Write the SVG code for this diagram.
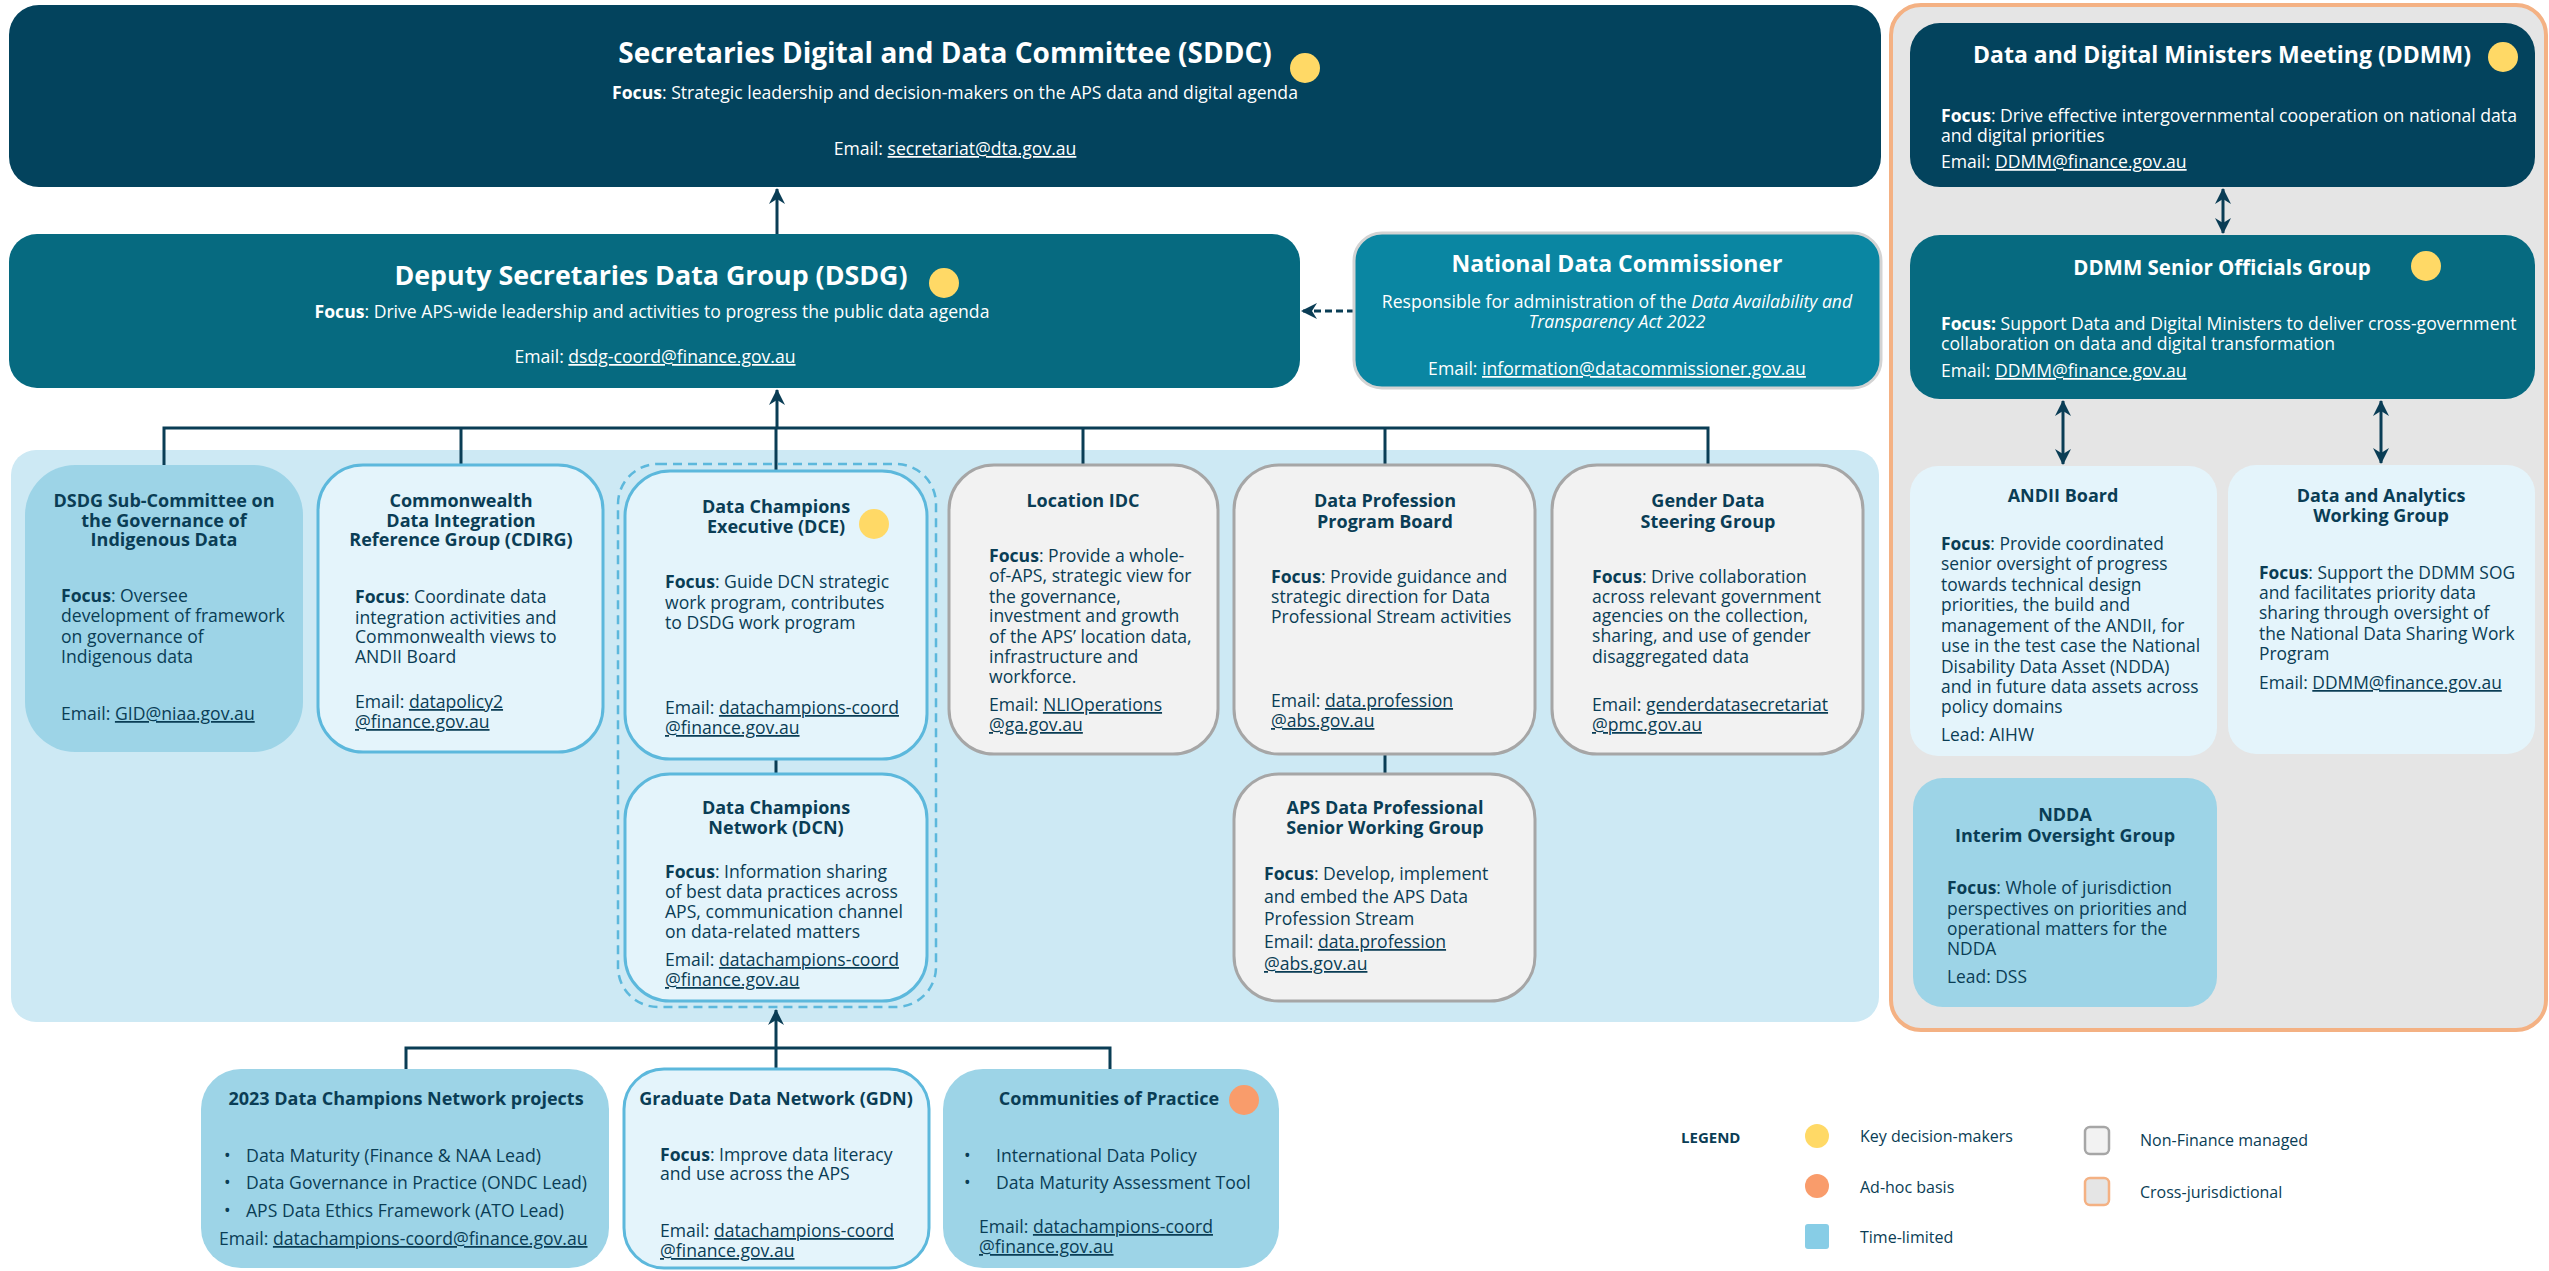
<svg xmlns="http://www.w3.org/2000/svg" width="2549" height="1271" viewBox="0 0 2549 1271">
<defs>
<style>
text{font-family:"Open Sans","Noto Sans",sans-serif}
.w{fill:#ffffff}
.d{fill:#0a3d55}
.h1{font-size:28px;font-weight:700}
.h1b{font-size:26.8px;font-weight:700}
.h2{font-size:23px;font-weight:700}
.h2b{font-size:20.5px;font-weight:700}
.h3{font-size:18px;font-weight:700}
.p{font-size:17.6px}
.s{font-size:17.4px}
.lg{font-size:16px}
.c{text-anchor:middle}
.b{font-weight:700}
.u{text-decoration:underline}
.i{font-style:italic}
.navy{fill:#03435d}
.teal{fill:#066a80}
.tl{fill:#9dd4e7}
.lt{fill:#e4f4fb;stroke:#5cb8dc;stroke-width:3}
.lt0{fill:#e4f4fb}
.gr{fill:#f2f2f2;stroke:#a6a6a6;stroke-width:3}
.kd{fill:#ffd966}
.ah{fill:#f99c6b}
.ln{fill:none;stroke:#0a3d55;stroke-width:3}
</style>
<marker id="arr" viewBox="0 0 16 16" refX="15" refY="8" markerWidth="16" markerHeight="16" markerUnits="userSpaceOnUse" orient="auto-start-reverse">
<path d="M0,0 L16,8 L0,16 L5,8 z" fill="#0a3d55"/>
</marker>
</defs>

<!-- background panels -->
<rect x="1891" y="5" width="655" height="1025" rx="30" fill="#e5e5e5" stroke="#f4b183" stroke-width="4"/>
<rect x="11" y="450" width="1868" height="572" rx="25" fill="#cde9f4"/>

<!-- connectors -->
<g id="connectors">
<line class="ln" x1="777" y1="234" x2="777" y2="189" marker-end="url(#arr)"/>
<line class="ln" x1="1354" y1="311" x2="1302" y2="311" stroke-dasharray="7 4" marker-end="url(#arr)"/>
<line class="ln" x1="2223" y1="189" x2="2223" y2="233" marker-start="url(#arr)" marker-end="url(#arr)"/>
<line class="ln" x1="2063" y1="401" x2="2063" y2="464" marker-start="url(#arr)" marker-end="url(#arr)"/>
<line class="ln" x1="2381" y1="401" x2="2381" y2="463" marker-start="url(#arr)" marker-end="url(#arr)"/>
<line class="ln" x1="777" y1="428" x2="777" y2="390" marker-end="url(#arr)"/>
<polyline class="ln" points="164,465 164,428 1708,428 1708,465"/>
<line class="ln" x1="461" y1="428" x2="461" y2="465"/>
<line class="ln" x1="776" y1="428" x2="776" y2="471"/>
<line class="ln" x1="1083" y1="428" x2="1083" y2="465"/>
<line class="ln" x1="1385" y1="428" x2="1385" y2="465"/>
<line class="ln" x1="776" y1="759" x2="776" y2="774"/>
<line class="ln" x1="1385" y1="754" x2="1385" y2="774"/>
<line class="ln" x1="776" y1="1068" x2="776" y2="1010" marker-end="url(#arr)"/>
<polyline class="ln" points="406,1069 406,1048 1110,1048 1110,1069"/>
</g>

<!-- top level -->
<g id="sddc">
<rect class="navy" x="9" y="5" width="1872" height="182" rx="30"/>
<text class="w h1 c" x="945" y="63">Secretaries Digital and Data Committee (SDDC)</text>
<circle class="kd" cx="1305" cy="68" r="15"/>
<text class="w p c" x="955" y="99"><tspan class="b">Focus</tspan>: Strategic leadership and decision-makers on the APS data and digital agenda</text>
<text class="w p c" x="955" y="155">Email: <tspan class="u">secretariat@dta.gov.au</tspan></text>
</g>

<g id="dsdg">
<rect class="teal" x="9" y="234" width="1291" height="154" rx="28"/>
<text class="w h1b c" x="651" y="285">Deputy Secretaries Data Group (DSDG)</text>
<circle class="kd" cx="944" cy="283" r="15"/>
<text class="w p c" x="652" y="318"><tspan class="b">Focus</tspan>: Drive APS-wide leadership and activities to progress the public data agenda</text>
<text class="w p c" x="655" y="363">Email: <tspan class="u">dsdg-coord@finance.gov.au</tspan></text>
</g>

<g id="ndc">
<rect x="1354" y="233" width="527" height="155" rx="28" fill="#0a86a2" stroke="#d3d3d3" stroke-width="3"/>
<text class="w h2 c" x="1617" y="272">National Data Commissioner</text>
<text class="w p c" x="1617" y="308">Responsible for administration of the <tspan class="i">Data Availability and</tspan></text>
<text class="w p c i" x="1617" y="328">Transparency Act 2022</text>
<text class="w p c" x="1617" y="375">Email: <tspan class="u">information@datacommissioner.gov.au</tspan></text>
</g>

<!-- cross-jurisdictional -->
<g id="ddmm">
<rect class="navy" x="1910" y="23" width="625" height="164" rx="30"/>
<text class="w h2 c" x="2222" y="63">Data and Digital Ministers Meeting (DDMM)</text>
<circle class="kd" cx="2503" cy="57" r="15"/>
<text class="w p" x="1941" y="122"><tspan class="b">Focus</tspan>: Drive effective intergovernmental cooperation on national data</text>
<text class="w p" x="1941" y="142">and digital priorities</text>
<text class="w p" x="1941" y="168">Email: <tspan class="u">DDMM@finance.gov.au</tspan></text>
</g>

<g id="sog">
<rect class="teal" x="1910" y="235" width="625" height="164" rx="30"/>
<text class="w h2b c" x="2222" y="275">DDMM Senior Officials Group</text>
<circle class="kd" cx="2426" cy="266" r="15"/>
<text class="w p" x="1941" y="330"><tspan class="b">Focus:</tspan> Support Data and Digital Ministers to deliver cross-government</text>
<text class="w p" x="1941" y="350">collaboration on data and digital transformation</text>
<text class="w p" x="1941" y="377">Email: <tspan class="u">DDMM@finance.gov.au</tspan></text>
</g>

<g id="andii">
<rect class="lt0" x="1910" y="466" width="307" height="290" rx="28"/>
<text class="d h3 c" x="2063" y="502">ANDII Board</text>
<text class="d s" x="1941" y="550"><tspan class="b">Focus</tspan>: Provide coordinated</text>
<text class="d s" x="1941" y="570">senior oversight of progress</text>
<text class="d s" x="1941" y="591">towards technical design</text>
<text class="d s" x="1941" y="611">priorities, the build and</text>
<text class="d s" x="1941" y="632">management of the ANDII, for</text>
<text class="d s" x="1941" y="652">use in the test case the National</text>
<text class="d s" x="1941" y="673">Disability Data Asset (NDDA)</text>
<text class="d s" x="1941" y="693">and in future data assets across</text>
<text class="d s" x="1941" y="713">policy domains</text>
<text class="d s" x="1941" y="741">Lead: AIHW</text>
</g>

<g id="dawg">
<rect class="lt0" x="2228" y="465" width="307" height="289" rx="28"/>
<text class="d h3 c" x="2381" y="502">Data and Analytics</text>
<text class="d h3 c" x="2381" y="522">Working Group</text>
<text class="d s" x="2259" y="579"><tspan class="b">Focus</tspan>: Support the DDMM SOG</text>
<text class="d s" x="2259" y="599">and facilitates priority data</text>
<text class="d s" x="2259" y="619">sharing through oversight of</text>
<text class="d s" x="2259" y="640">the National Data Sharing Work</text>
<text class="d s" x="2259" y="660">Program</text>
<text class="d s" x="2259" y="689">Email: <tspan class="u">DDMM@finance.gov.au</tspan></text>
</g>

<g id="ndda">
<rect class="tl" x="1913" y="778" width="304" height="229" rx="30"/>
<text class="d h3 c" x="2065" y="821">NDDA</text>
<text class="d h3 c" x="2065" y="842">Interim Oversight Group</text>
<text class="d s" x="1947" y="894"><tspan class="b">Focus</tspan>: Whole of jurisdiction</text>
<text class="d s" x="1947" y="915">perspectives on priorities and</text>
<text class="d s" x="1947" y="935">operational matters for the</text>
<text class="d s" x="1947" y="955">NDDA</text>
<text class="d s" x="1947" y="983">Lead: DSS</text>
</g>

<!-- DSDG groups -->
<g id="sub-committee">
<rect class="tl" x="25" y="465" width="278" height="287" rx="50"/>
<text class="d h3 c" x="164" y="507">DSDG Sub-Committee on</text>
<text class="d h3 c" x="164" y="527">the Governance of</text>
<text class="d h3 c" x="164" y="546">Indigenous Data</text>
<text class="d p" x="61" y="602"><tspan class="b">Focus</tspan>: Oversee</text>
<text class="d p" x="61" y="622">development of framework</text>
<text class="d p" x="61" y="643">on governance of</text>
<text class="d p" x="61" y="663">Indigenous data</text>
<text class="d p" x="61" y="720">Email: <tspan class="u">GID@niaa.gov.au</tspan></text>
</g>

<g id="cdirg">
<rect class="lt" x="318" y="465" width="285" height="287" rx="45"/>
<text class="d h3 c" x="461" y="507">Commonwealth</text>
<text class="d h3 c" x="461" y="527">Data Integration</text>
<text class="d h3 c" x="461" y="546">Reference Group (CDIRG)</text>
<text class="d p" x="355" y="603"><tspan class="b">Focus</tspan>: Coordinate data</text>
<text class="d p" x="355" y="624">integration activities and</text>
<text class="d p" x="355" y="643">Commonwealth views to</text>
<text class="d p" x="355" y="663">ANDII Board</text>
<text class="d p" x="355" y="708">Email: <tspan class="u">datapolicy2</tspan></text>
<text class="d p u" x="355" y="728">@finance.gov.au</text>
</g>

<rect id="dc-group" x="618" y="464" width="318" height="543" rx="40" fill="none" stroke="#5cb8dc" stroke-width="2.5" stroke-dasharray="9 6"/>

<g id="dce">
<rect class="lt" x="625" y="471" width="302" height="288" rx="45"/>
<text class="d h3 c" x="776" y="513">Data Champions</text>
<text class="d h3 c" x="776" y="533">Executive (DCE)</text>
<circle class="kd" cx="874" cy="524" r="15"/>
<text class="d p" x="665" y="588"><tspan class="b">Focus</tspan>: Guide DCN strategic</text>
<text class="d p" x="665" y="609">work program, contributes</text>
<text class="d p" x="665" y="629">to DSDG work program</text>
<text class="d p" x="665" y="714">Email: <tspan class="u">datachampions-coord</tspan></text>
<text class="d p u" x="665" y="734">@finance.gov.au</text>
</g>

<g id="dcn">
<rect class="lt" x="625" y="774" width="302" height="227" rx="45"/>
<text class="d h3 c" x="776" y="814">Data Champions</text>
<text class="d h3 c" x="776" y="834">Network (DCN)</text>
<text class="d p" x="665" y="878"><tspan class="b">Focus</tspan>: Information sharing</text>
<text class="d p" x="665" y="898">of best data practices across</text>
<text class="d p" x="665" y="918">APS, communication channel</text>
<text class="d p" x="665" y="938">on data-related matters</text>
<text class="d p" x="665" y="966">Email: <tspan class="u">datachampions-coord</tspan></text>
<text class="d p u" x="665" y="986">@finance.gov.au</text>
</g>

<g id="location-idc">
<rect class="gr" x="949" y="465" width="269" height="289" rx="45"/>
<text class="d h3 c" x="1083" y="507">Location IDC</text>
<text class="d p" x="989" y="562"><tspan class="b">Focus</tspan>: Provide a whole-</text>
<text class="d p" x="989" y="582">of-APS, strategic view for</text>
<text class="d p" x="989" y="603">the governance,</text>
<text class="d p" x="989" y="622">investment and growth</text>
<text class="d p" x="989" y="643">of the APS’ location data,</text>
<text class="d p" x="989" y="663">infrastructure and</text>
<text class="d p" x="989" y="683">workforce.</text>
<text class="d p" x="989" y="711">Email: <tspan class="u">NLIOperations</tspan></text>
<text class="d p u" x="989" y="731">@ga.gov.au</text>
</g>

<g id="dppb">
<rect class="gr" x="1234" y="465" width="301" height="289" rx="45"/>
<text class="d h3 c" x="1385" y="507">Data Profession</text>
<text class="d h3 c" x="1385" y="528">Program Board</text>
<text class="d p" x="1271" y="583"><tspan class="b">Focus</tspan>: Provide guidance and</text>
<text class="d p" x="1271" y="603">strategic direction for Data</text>
<text class="d p" x="1271" y="623">Professional Stream activities</text>
<text class="d p" x="1271" y="707">Email: <tspan class="u">data.profession</tspan></text>
<text class="d p u" x="1271" y="727">@abs.gov.au</text>
</g>

<g id="aps-dpswg">
<rect class="gr" x="1234" y="774" width="301" height="227" rx="45"/>
<text class="d h3 c" x="1385" y="814">APS Data Professional</text>
<text class="d h3 c" x="1385" y="834">Senior Working Group</text>
<text class="d p" x="1264" y="880"><tspan class="b">Focus</tspan>: Develop, implement</text>
<text class="d p" x="1264" y="903">and embed the APS Data</text>
<text class="d p" x="1264" y="925">Profession Stream</text>
<text class="d p" x="1264" y="948">Email: <tspan class="u">data.profession</tspan></text>
<text class="d p u" x="1264" y="970">@abs.gov.au</text>
</g>

<g id="gender">
<rect class="gr" x="1552" y="465" width="311" height="289" rx="45"/>
<text class="d h3 c" x="1708" y="507">Gender Data</text>
<text class="d h3 c" x="1708" y="528">Steering Group</text>
<text class="d p" x="1592" y="583"><tspan class="b">Focus</tspan>: Drive collaboration</text>
<text class="d p" x="1592" y="603">across relevant government</text>
<text class="d p" x="1592" y="622">agencies on the collection,</text>
<text class="d p" x="1592" y="642">sharing, and use of gender</text>
<text class="d p" x="1592" y="663">disaggregated data</text>
<text class="d p" x="1592" y="711">Email: <tspan class="u">genderdatasecretariat</tspan></text>
<text class="d p u" x="1592" y="731">@pmc.gov.au</text>
</g>

<!-- data champions network -->
<g id="dcn-projects">
<rect class="tl" x="201" y="1069" width="408" height="199" rx="40"/>
<text class="d h3 c" x="406" y="1105">2023 Data Champions Network projects</text>
<text class="d p" x="224" y="1162">•</text>
<text class="d p" x="246" y="1162" textLength="295" lengthAdjust="spacingAndGlyphs">Data Maturity (Finance &amp; NAA Lead)</text>
<text class="d p" x="224" y="1189">•</text>
<text class="d p" x="246" y="1189" textLength="341" lengthAdjust="spacingAndGlyphs">Data Governance in Practice (ONDC Lead)</text>
<text class="d p" x="224" y="1217">•</text>
<text class="d p" x="246" y="1217" textLength="318" lengthAdjust="spacingAndGlyphs">APS Data Ethics Framework (ATO Lead)</text>
<text class="d p" x="219" y="1245">Email: <tspan class="u">datachampions-coord@finance.gov.au</tspan></text>
</g>

<g id="gdn">
<rect class="lt" x="624" y="1069" width="305" height="199" rx="40"/>
<text class="d h3 c" x="776" y="1105">Graduate Data Network (GDN)</text>
<text class="d p" x="660" y="1161"><tspan class="b">Focus</tspan>: Improve data literacy</text>
<text class="d p" x="660" y="1180">and use across the APS</text>
<text class="d p" x="660" y="1237">Email: <tspan class="u">datachampions-coord</tspan></text>
<text class="d p u" x="660" y="1257">@finance.gov.au</text>
</g>

<g id="cop">
<rect class="tl" x="943" y="1069" width="336" height="199" rx="40"/>
<text class="d h3 c" x="1109" y="1105">Communities of Practice</text>
<circle class="ah" cx="1244" cy="1100" r="15"/>
<text class="d p" x="964" y="1162">•</text>
<text class="d p" x="996" y="1162">International Data Policy</text>
<text class="d p" x="964" y="1189">•</text>
<text class="d p" x="996" y="1189">Data Maturity Assessment Tool</text>
<text class="d p" x="979" y="1233">Email: <tspan class="u">datachampions-coord</tspan></text>
<text class="d p u" x="979" y="1253">@finance.gov.au</text>
</g>

<!-- legend -->
<g id="legend">
<text class="d b" font-size="15" x="1681" y="1143">LEGEND</text>
<circle class="kd" cx="1817" cy="1136" r="12"/>
<text class="d lg" x="1860" y="1142">Key decision-makers</text>
<circle class="ah" cx="1817" cy="1186" r="12"/>
<text class="d lg" x="1860" y="1193">Ad-hoc basis</text>
<rect x="1805" y="1224" width="24" height="25" rx="3" fill="#87cde6"/>
<text class="d lg" x="1860" y="1243">Time-limited</text>
<rect x="2085" y="1127" width="24" height="27" rx="5" fill="#f2f2f2" stroke="#a6a6a6" stroke-width="2.5"/>
<text class="d lg" x="2140" y="1146">Non-Finance managed</text>
<rect x="2085" y="1178" width="24" height="27" rx="5" fill="#e5e5e5" stroke="#f4b183" stroke-width="2.5"/>
<text class="d lg" x="2140" y="1198">Cross-jurisdictional</text>
</g>
</svg>
